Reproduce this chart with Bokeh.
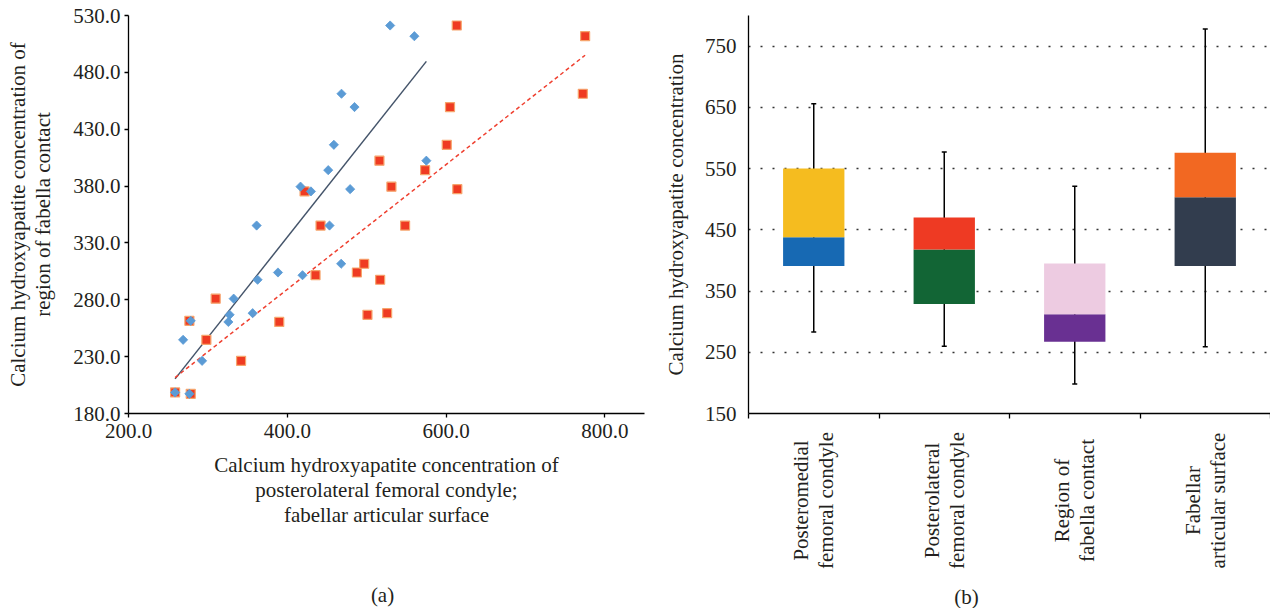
import numpy as np
from bokeh.plotting import figure
from bokeh.layouts import row, column
from bokeh.models import FixedTicker, NumeralTickFormatter
from bokeh.core.properties import value
from bokeh.embed import file_html
from bokeh.resources import INLINE

FONT = "Liberation Serif"
FS = "21px"
TXT = "#231F20"

# ---------------- data: panel (a) ----------------
fabella_contact = [197.3, 198.5, 226.3, 244.8, 260.5, 261.5, 266.8, 268.2, 281.0, 297.6,
                   301.6, 304.0, 311.7, 345.3, 345.3, 375.3, 377.3, 379.5, 394.0, 402.3,
                   416.3, 449.5, 461.2, 511.8, 521.2]
posterolateral = [276.7, 258.7, 292.7, 268.8, 325.8, 278.4, 327.4, 356.4, 332.5, 362.6,
                  419.2, 388.3, 467.9, 361.4, 453.2, 429.8, 479.2, 416.7, 451.6, 575.2,
                  458.7, 484.7, 468.3, 560.1, 529.6]
fabellar_surface = [278.4, 258.7, 341.8, 298.1, 389.9, 276.7, 501.0, 525.8, 309.8, 517.0,
                    435.6, 487.7, 496.9, 441.9, 548.4, 421.8, 614.2, 531.2, 573.6, 516.1,
                    600.9, 605.0, 772.3, 775.2, 613.5]
scatter_x_ticks = [200, 400, 600, 800]
scatter_y_ticks = [180, 230, 280, 330, 380, 430, 480, 530]

# ---------------- data: panel (b) ----------------
box_labels = ["Posteromedial\nfemoral condyle", "Posterolateral\nfemoral condyle",
              "Region of\nfabella contact", "Fabellar\narticular surface"]
box_min = [283, 260, 198, 259]
box_q1 = [391, 329, 267, 391]
box_med = [438, 418, 312, 503]
box_q3 = [550, 470, 395, 576]
box_max = [656, 577, 521, 778]
box_y_ticks = [150, 250, 350, 450, 550, 650, 750]
lower_colors = ["#1769B3", "#126535", "#693092", "#323D4E"]
upper_colors = ["#F5BC1F", "#EE3A23", "#EDCBE1", "#F26822"]


def style_axes(p):
    for ax in (p.xaxis, p.yaxis):
        ax.axis_line_color = "black"
        ax.axis_line_width = 1.3
        ax.major_tick_line_color = "black"
        ax.major_tick_line_width = 1.3
        ax.major_tick_in = 0
        ax.major_tick_out = 4
        ax.minor_tick_line_color = None
        ax.major_label_text_font = FONT
        ax.major_label_text_font_size = FS
        ax.major_label_text_color = TXT
        ax.axis_label_text_font = FONT
        ax.axis_label_text_font_size = FS
        ax.axis_label_text_font_style = "normal"
        ax.axis_label_text_color = TXT
        ax.axis_label_text_line_height = 1.05


def blank(width, height, x_range, y_range, left=0, right=0):
    f = figure(width=width, height=height, x_range=x_range, y_range=y_range,
               output_backend="svg", toolbar_location=None,
               x_axis_location=None, y_axis_location=None,
               min_border_left=left, min_border_right=right,
               min_border_top=0, min_border_bottom=0)
    f.outline_line_color = None
    f.grid.visible = False
    return f


# ---------------- panel (a) ----------------
p1 = figure(width=650, height=540, x_range=(200, 850), y_range=(180, 530),
            output_backend="svg", toolbar_location=None,
            min_border_left=128, min_border_right=6, min_border_top=15, min_border_bottom=127)
p1.outline_line_color = None
p1.grid.visible = False
style_axes(p1)
p1.xaxis.ticker = FixedTicker(ticks=scatter_x_ticks)
p1.yaxis.ticker = FixedTicker(ticks=scatter_y_ticks)
p1.xaxis.formatter = NumeralTickFormatter(format="0.0")
p1.yaxis.formatter = NumeralTickFormatter(format="0.0")
p1.xaxis.major_label_standoff = 6
p1.yaxis.major_label_standoff = 4
p1.xaxis.axis_label = ("Calcium hydroxyapatite concentration of\n"
                       "posterolateral femoral condyle;\nfabellar articular surface")
p1.yaxis.axis_label = "Calcium hydroxyapatite concentration of\nregion of fabella contact"
p1.xaxis.axis_label_standoff = 12
p1.yaxis.axis_label_standoff = 15

# trend lines (least squares fit of each series)
for xs, color, dash in ((posterolateral, "#44546A", "solid"),
                        (fabellar_surface, "#EF4030", "4 3")):
    m, b = np.polyfit(xs, fabella_contact, 1)
    x0, x1 = min(xs), max(xs)
    p1.line([x0, x1], [m * x0 + b, m * x1 + b], line_color=color,
            line_width=1.5, line_dash=dash)

p1.scatter(fabellar_surface, fabella_contact, marker="square", size=9,
           fill_color="#EF3B22", line_color="#F6A46C", line_width=1.2)
p1.scatter(posterolateral, fabella_contact, marker="square", angle=np.pi / 4, size=6.5,
           fill_color="#5B9BD5", line_color="#5B9BD5", line_width=0.8)

# caption strip under panel (a)
cap_a = blank(650, 68, (0, 650), (68, 0))
cap_a.text(x=[320], y=[54], text=["(a)"], text_font=value(FONT), text_font_size=FS,
           text_align="center", text_baseline="middle", text_color=TXT)

# ---------------- panel (b) ----------------
n = len(box_labels)
p2 = figure(width=620, height=425, x_range=(0, n), y_range=(150, 800),
            output_backend="svg", toolbar_location=None,
            min_border_left=98, min_border_right=0, min_border_top=15, min_border_bottom=12)
p2.outline_line_color = None
style_axes(p2)
p2.xgrid.visible = False
p2.yaxis.ticker = FixedTicker(ticks=box_y_ticks)
p2.yaxis.major_tick_out = 0
p2.yaxis.major_label_standoff = 12
p2.yaxis.axis_label = "Calcium hydroxyapatite concentration"
p2.yaxis.axis_label_standoff = 14
p2.ygrid.ticker = FixedTicker(ticks=box_y_ticks[1:])
p2.ygrid.grid_line_color = "#333333"
p2.ygrid.grid_line_width = 1.6
p2.ygrid.grid_line_dash = "2 10"

p2.xaxis.ticker = FixedTicker(ticks=[], minor_ticks=list(range(n + 1)))
p2.xaxis.minor_tick_line_color = "black"
p2.xaxis.minor_tick_line_width = 1.3
p2.xaxis.minor_tick_in = 0
p2.xaxis.minor_tick_out = 5
p2.xaxis.major_label_standoff = 0

centers = [i + 0.5 for i in range(n)]
p2.segment(centers, box_min, centers, box_max, line_color="black", line_width=1.5)
p2.scatter(centers, box_min, marker="dash", size=5, line_color="black", line_width=1.5)
p2.scatter(centers, box_max, marker="dash", size=5, line_color="black", line_width=1.5)
p2.vbar(x=centers, width=0.47, bottom=box_q1, top=box_med,
        fill_color=lower_colors, line_color=None)
p2.vbar(x=centers, width=0.47, bottom=box_med, top=box_q3,
        fill_color=upper_colors, line_color=None)

# category labels + caption strip under panel (b), sharing the x range of panel (b)
lab_b = blank(620, 183, p2.x_range, (183, 0), left=98, right=0)
lab_b.text(x=centers, y=[75] * n, text=box_labels, angle=np.pi / 2,
           text_font=value(FONT), text_font_size=FS, text_align="center",
           text_baseline="middle", text_color=TXT, text_line_height=1.05)
lab_b.text(x=[1.67], y=[171], text=["(b)"], text_font=value(FONT), text_font_size=FS,
           text_align="center", text_baseline="middle", text_color=TXT)

layout = row(column(p1, cap_a), column(p2, lab_b))
open("out.html", "w").write(file_html(layout, INLINE))
